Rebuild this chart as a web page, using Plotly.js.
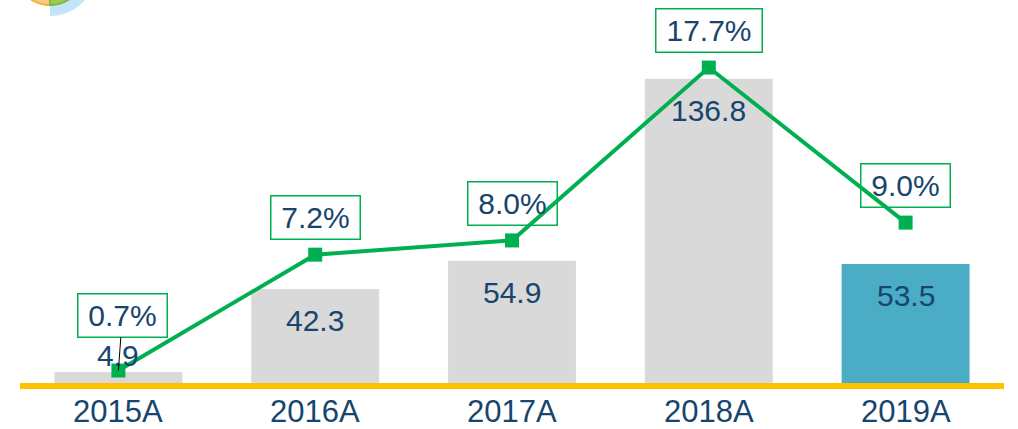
<!DOCTYPE html>
<html>
<head>
<meta charset="utf-8">
<script src="https://cdn.plot.ly/plotly-3.0.1.min.js"></script>
<style>html,body{margin:0;padding:0;background:#fff;}#chart{width:1018px;height:429px;}</style>
</head>
<body>
<div id="chart"></div>
<script>
var categories = ['2015A', '2016A', '2017A', '2018A', '2019A'];
var barValues = [4.9, 42.3, 54.9, 136.8, 53.5];
var barLabels = ['4.9', '42.3', '54.9', '136.8', '53.5'];
var growthValues = [0.7, 7.2, 8.0, 17.7, 9.0];
var growthLabels = ['0.7%', '7.2%', '8.0%', '17.7%', '9.0%'];

var NAVY = '#17456E';
var GREEN = '#00B050';
var FONT = 'Arial, "Liberation Sans", sans-serif';

var barColors = categories.map(function (c, i) { return i === categories.length - 1 ? '#4BACC6' : '#D9D9D9'; });

var traces = [
  {
    type: 'bar', x: categories, y: barValues, width: 0.65,
    marker: {color: barColors}, hoverinfo: 'skip', yaxis: 'y'
  },
  {
    type: 'scatter', mode: 'lines+markers', x: categories, y: growthValues, yaxis: 'y2',
    line: {color: GREEN, width: 4},
    marker: {color: GREEN, size: 14, symbol: 'square'},
    hoverinfo: 'skip', cliponaxis: false
  }
];

var annotations = [];
// category labels under the axis
categories.forEach(function (c) {
  annotations.push({
    x: c, y: 0, xref: 'x', yref: 'paper', text: c, showarrow: false,
    yanchor: 'middle', yshift: -28, font: {family: FONT, size: 31, color: NAVY}
  });
});
barValues.forEach(function (v, i) {
  annotations.push({
    x: categories[i], y: v, xref: 'x', yref: 'y', text: barLabels[i], showarrow: false,
    yshift: v < 10 ? 17 : -32, font: {family: FONT, size: 30, color: NAVY}
  });
});
growthValues.forEach(function (v, i) {
  var a = {
    x: categories[i], y: v, xref: 'x', yref: 'y2', text: growthLabels[i],
    font: {family: FONT, size: 30, color: NAVY},
    bordercolor: GREEN, borderwidth: 1.5, borderpad: 4,
    width: growthLabels[i].length > 4 ? 97 : 80, height: 34,
    bgcolor: 'rgba(255,255,255,0)'
  };
  if (i === 0) {
    a.showarrow = true; a.arrowhead = 0; a.arrowwidth = 1; a.arrowcolor = '#000000';
    a.ax = 4; a.ay = -55; a.standoff = 0;
  } else {
    a.showarrow = false; a.yshift = 37;
  }
  annotations.push(a);
});

// decorative logo fragment in the top-left corner (pixel -> paper)
var L = 20, R = 14, T = 5, B = 46, W = 1018, H = 429;
var PW = W - L - R, PH = H - T - B;
function P(x, y) { return ((x - L) / PW).toFixed(4) + ',' + ((H - B - y) / PH).toFixed(4); }
function arcPath(cx, cy, r, a0, a1, withCenter) {
  var s = '', n = 40;
  for (var k = 0; k <= n; k++) {
    var a = (a0 + (a1 - a0) * k / n) * Math.PI / 180;
    s += (k === 0 && !withCenter ? 'M' : 'L') + P(cx + r * Math.cos(a), cy + r * Math.sin(a));
  }
  if (withCenter) s = 'M' + P(cx, cy) + s;
  return s + 'Z';
}
var shapes = [
  {type: 'path', xref: 'paper', yref: 'paper', path: arcPath(50, -30, 46, 32, 90, true), fillcolor: '#C4E5F9', line: {width: 0}},
  {type: 'path', xref: 'paper', yref: 'paper', path: arcPath(50, -30, 35, 90, 270, false), fillcolor: '#F8CD82', line: {color: '#F2B33D', width: 2}},
  {type: 'path', xref: 'paper', yref: 'paper', path: arcPath(50, -30, 35, -90, 90, false), fillcolor: '#9CCB5C', line: {color: '#82B840', width: 2}}
];

var layout = {
  width: W, height: H,
  margin: {l: L, r: R, t: T, b: B},
  paper_bgcolor: '#ffffff', plot_bgcolor: '#ffffff',
  showlegend: false,
  bargap: 0.35,
  xaxis: {
    type: 'category', range: [-0.5, 4.5], showgrid: false, zeroline: false,
    showline: true, linecolor: '#FFC000', linewidth: 6, ticks: '', showticklabels: false,
    fixedrange: true
  },
  yaxis: {range: [0, 169.9], visible: false, showgrid: false, zeroline: false, fixedrange: true},
  yaxis2: {range: [0, 21.21], overlaying: 'y', side: 'right', visible: false, showgrid: false, zeroline: false, fixedrange: true},
  annotations: annotations,
  shapes: shapes
};

Plotly.newPlot('chart', traces, layout, {displayModeBar: false, staticPlot: true});
</script>
</body>
</html>
